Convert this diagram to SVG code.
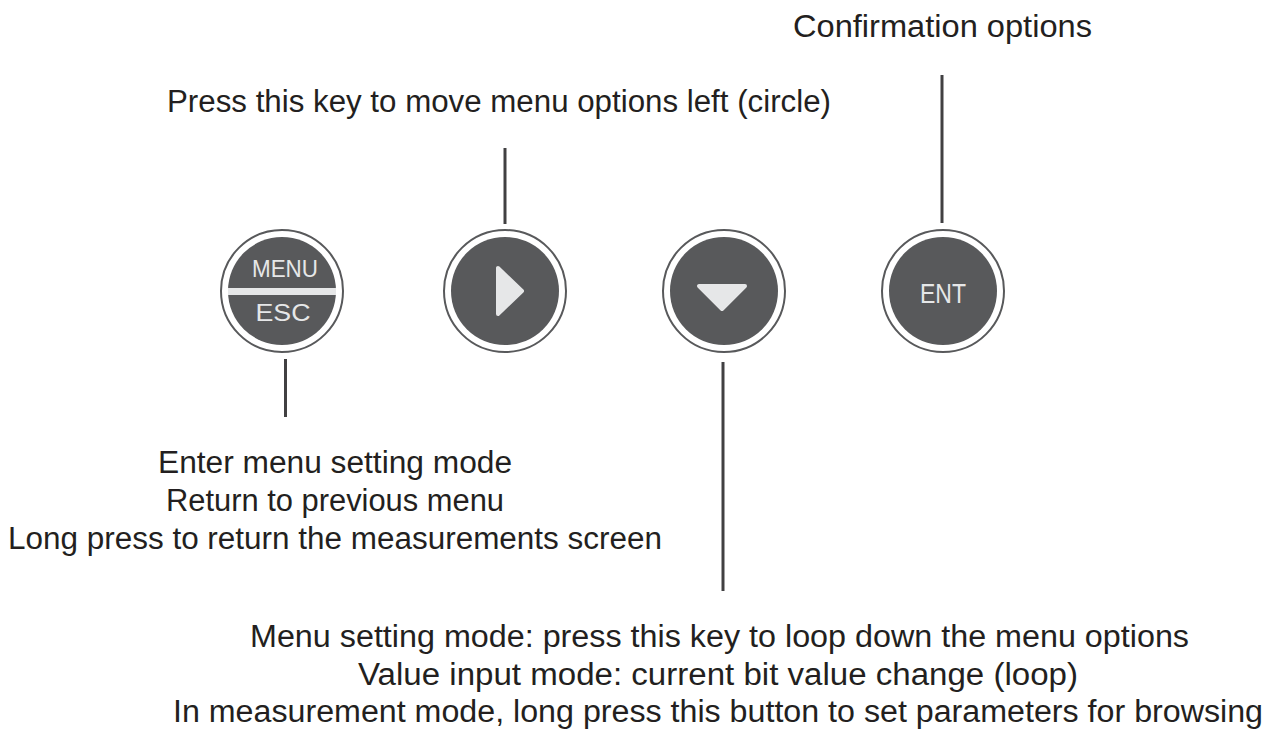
<svg xmlns="http://www.w3.org/2000/svg" width="1277" height="731" viewBox="0 0 1277 731">
<style>
.lbl{font-family:"Liberation Sans",Arial,sans-serif;font-size:31px;fill:#231f20;text-anchor:middle}
.ring{fill:#ffffff;stroke:#58595b;stroke-width:2}
.face{fill:#58595b}
.glyph{fill:#e6e7e8;stroke:#e6e7e8;stroke-width:4;stroke-linejoin:round}
.key{font-family:"Liberation Sans",Arial,sans-serif;fill:#e6e7e8;text-anchor:middle}
.conn{stroke:#414042;stroke-width:3;fill:none}
</style>
<rect width="1277" height="731" fill="#ffffff"/>
<g id="connectors">
<line class="conn" x1="285.5" y1="359" x2="285.5" y2="417"/>
<line class="conn" x1="505" y1="148" x2="505" y2="224"/>
<line class="conn" x1="723" y1="362" x2="723" y2="591"/>
<line class="conn" x1="942" y1="75" x2="942" y2="223"/>
</g>
<g id="key-menu-esc">
<circle class="ring" cx="282" cy="291" r="61"/>
<circle class="face" cx="282" cy="291" r="54"/>
<rect x="228" y="288" width="108" height="7" fill="#e6e7e8"/>
<text class="key" x="285" y="277" font-size="23" textLength="66" lengthAdjust="spacingAndGlyphs">MENU</text>
<text class="key" x="283" y="321" font-size="23" textLength="55" lengthAdjust="spacingAndGlyphs">ESC</text>
</g>
<g id="key-right">
<circle class="ring" cx="505" cy="291" r="61"/>
<circle class="face" cx="505" cy="291" r="54"/>
<polygon class="glyph" points="498,268 498,314 522,291"/>
</g>
<g id="key-down">
<circle class="ring" cx="724" cy="291" r="61"/>
<circle class="face" cx="724" cy="291" r="54"/>
<polygon class="glyph" points="699,286 745,286 722,309"/>
</g>
<g id="key-ent">
<circle class="ring" cx="943" cy="291" r="61"/>
<circle class="face" cx="943" cy="291" r="54"/>
<text class="key" x="943" y="303" font-size="27" textLength="46" lengthAdjust="spacingAndGlyphs">ENT</text>
</g>
<g id="label-ent">
<text class="lbl" x="942.5" y="37" textLength="299" lengthAdjust="spacingAndGlyphs">Confirmation options</text>
</g>
<g id="label-right">
<text class="lbl" x="499" y="112" textLength="664" lengthAdjust="spacingAndGlyphs">Press this key to move menu options left (circle)</text>
</g>
<g id="label-menu">
<text class="lbl" x="335" y="473" textLength="354" lengthAdjust="spacingAndGlyphs">Enter menu setting mode</text>
<text class="lbl" x="335" y="511" textLength="338" lengthAdjust="spacingAndGlyphs">Return to previous menu</text>
<text class="lbl" x="335" y="549" textLength="654" lengthAdjust="spacingAndGlyphs">Long press to return the measurements screen</text>
</g>
<g id="label-down">
<text class="lbl" x="719.5" y="647" textLength="939" lengthAdjust="spacingAndGlyphs">Menu setting mode: press this key to loop down the menu options</text>
<text class="lbl" x="718" y="685" textLength="720" lengthAdjust="spacingAndGlyphs">Value input mode: current bit value change (loop)</text>
<text class="lbl" x="718" y="722" textLength="1090" lengthAdjust="spacingAndGlyphs">In measurement mode, long press this button to set parameters for browsing</text>
</g>
</svg>
